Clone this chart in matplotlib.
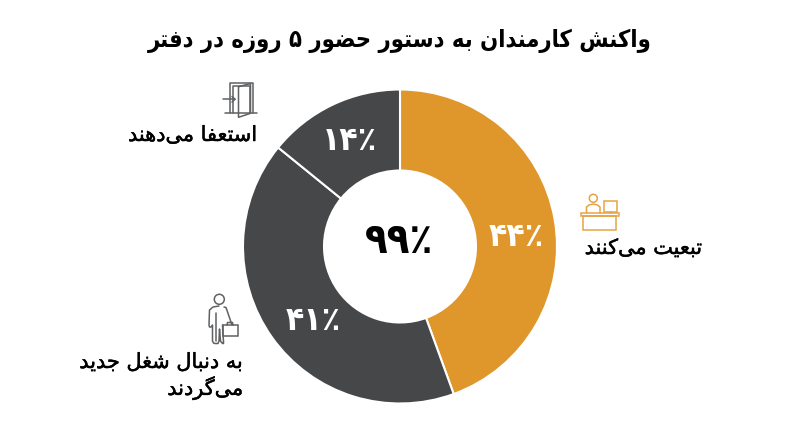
# -*- coding: utf-8 -*-
import matplotlib
matplotlib.use('Agg')
import matplotlib.pyplot as plt
import matplotlib.patheffects as pe
from matplotlib.patches import Circle, Rectangle

title = 'واکنش کارمندان به دستور حضور ۵ روزه در دفتر'
labels = ['تبعیت می\u200cکنند', 'به دنبال شغل جدید\nمی\u200cگردند', 'استعفا می\u200cدهند']
values = [44, 41, 14]
total_label = 99
colors = ['#DF962A', '#454749', '#454749']

# isolated, final, initial, medial presentation forms
forms = {
    'ا': '\uFE8D\uFE8E', 'د': '\uFEA9\uFEAA', 'ر': '\uFEAD\uFEAE',
    'ز': '\uFEAF\uFEB0', 'و': '\uFEED\uFEEE',
    'ب': '\uFE8F\uFE90\uFE91\uFE92', 'ت': '\uFE95\uFE96\uFE97\uFE98',
    'ج': '\uFE9D\uFE9E\uFE9F\uFEA0', 'ح': '\uFEA1\uFEA2\uFEA3\uFEA4',
    'س': '\uFEB1\uFEB2\uFEB3\uFEB4', 'ش': '\uFEB5\uFEB6\uFEB7\uFEB8',
    'ض': '\uFEBD\uFEBE\uFEBF\uFEC0', 'ع': '\uFEC9\uFECA\uFECB\uFECC',
    'غ': '\uFECD\uFECE\uFECF\uFED0', 'ف': '\uFED1\uFED2\uFED3\uFED4',
    'ل': '\uFEDD\uFEDE\uFEDF\uFEE0', 'م': '\uFEE1\uFEE2\uFEE3\uFEE4',
    'ن': '\uFEE5\uFEE6\uFEE7\uFEE8', 'ه': '\uFEE9\uFEEA\uFEEB\uFEEC',
    'ک': '\uFB8E\uFB8F\uFB90\uFB91', 'گ': '\uFB92\uFB93\uFB94\uFB95',
    'ی': '\uFBFC\uFBFD\uFBFE\uFBFF',
}


def shape(text):
    # matplotlib does no arabic shaping, so pick the joined forms and reverse
    out = []
    for i, c in enumerate(text):
        if c not in forms:
            if c != '\u200c':
                out.append(c)
            continue
        f = forms[c]
        before = i > 0 and text[i - 1] in forms and len(forms[text[i - 1]]) == 4
        after = i + 1 < len(text) and text[i + 1] in forms
        if len(f) == 2:
            out.append(f[1] if before else f[0])
        elif before and after:
            out.append(f[3])
        elif before:
            out.append(f[1])
        elif after:
            out.append(f[2])
        else:
            out.append(f[0])
    return ''.join(out[::-1])


def fa_pct(n):
    return str(n).translate(str.maketrans('0123456789', '۰۱۲۳۴۵۶۷۸۹')) + '٪'


plt.rcParams['font.family'] = ['DejaVu Sans']
fig = plt.figure(figsize=(8, 4.47), dpi=100)

# donut
cx, cy, r = 400, 246.5, 157
pie_ax = fig.add_axes([(cx - r) / 800, (447 - cy - r) / 447, 2 * r / 800, 2 * r / 447])
pie_ax.pie(values, colors=colors, startangle=90, counterclock=False, radius=1,
           wedgeprops={'width': 0.516, 'edgecolor': 'white', 'linewidth': 1.5})
pie_ax.set_xlim(-1, 1)
pie_ax.set_ylim(-1, 1)

# overlay in pixels for text and icons
ax = fig.add_axes([0, 0, 1, 1])
ax.set_xlim(0, 800)
ax.set_ylim(447, 0)
ax.axis('off')
ax.patch.set_alpha(0)

ax.text(400, 41, shape(title), ha='center', va='center', fontsize=17, fontweight='bold',
        fontstretch='condensed', color='black')
ax.text(399, 241, fa_pct(total_label), ha='center', va='center', fontsize=30, fontweight='bold',
        fontstretch='condensed', color='black')

pct_pos = [(516, 236), (313, 321), (349, 141)]
for v, (x, y) in zip(values, pct_pos):
    ax.text(x, y, fa_pct(v), ha='center', va='center', fontsize=24, fontweight='bold',
            fontstretch='condensed', color='white')

medium = [pe.withStroke(linewidth=0.35, foreground='black')]
ax.text(702, 248, shape(labels[0]), ha='right', va='center', fontsize=15, color='black', path_effects=medium)
ax.text(257, 135, shape(labels[2]), ha='right', va='center', fontsize=15, color='black', path_effects=medium)
line1, line2 = labels[1].split('\n')
ax.text(243, 362, shape(line1), ha='right', va='center', fontsize=15, color='black', path_effects=medium)
ax.text(243, 388, shape(line2), ha='right', va='center', fontsize=15, color='black', path_effects=medium)


def stroke(xs, ys, color, lw=1.1):
    ax.plot(xs, ys, color=color, lw=lw, solid_capstyle='round', solid_joinstyle='round')


# desk icon
o = '#E5A444'
ax.add_patch(Circle((593.3, 198.3), 4, fill=False, ec=o, lw=1.1))
stroke([586.5, 586.5, 589, 593.3, 597.5, 600, 600], [213, 207, 205, 204, 205, 207, 213], o)
ax.add_patch(Rectangle((604.3, 201.3), 13, 10.4, fill=False, ec=o, lw=1.1))
stroke([610.5, 610.5], [211.7, 213.3], o)
ax.add_patch(Rectangle((580.7, 213.3), 38, 3, fill=False, ec=o, lw=1.1))
ax.add_patch(Rectangle((583.3, 216.3), 32.7, 13.4, fill=False, ec=o, lw=1.1))

# door icon
g = '#5F6163'
stroke([230, 230, 252.7, 252.7], [113, 82.7, 82.7, 113], g)
stroke([233, 233, 249.5, 249.5], [113, 85.5, 85.5, 113], g)
stroke([225, 256.7], [113.3, 113.3], g)
stroke([238.5, 250.5, 250.5, 238.5, 238.5], [86.7, 83.5, 113.3, 117.3, 86.7], g)
stroke([222.7, 235], [99.3, 99.3], g)
stroke([232, 235, 232], [96.5, 99.3, 102], g)

# person icon
ax.add_patch(Circle((219.3, 299.3), 5, fill=False, ec=g, lw=1.1))
stroke([219, 213, 209.5, 209, 209.5, 211, 212.5, 212.5, 213.5, 215, 218, 219, 219.5, 220.5, 222.5,
        223.5, 223.5, 223, 222.5], [306, 307, 310, 325, 327, 327, 325, 341, 343, 343.5, 343.5, 341, 329,
        341, 343.5, 343.5, 341, 335.5, 325], g)
stroke([224, 226, 232], [307, 307.5, 325], g)
stroke([216, 216], [313, 341], g)
ax.add_patch(Rectangle((222.7, 325), 15.6, 10.7, fill=False, ec=g, lw=1.1))
stroke([227, 227.5, 232.5, 233], [325, 322.5, 322.5, 325], g)

fig.savefig('out.png', dpi=100, facecolor='white')
